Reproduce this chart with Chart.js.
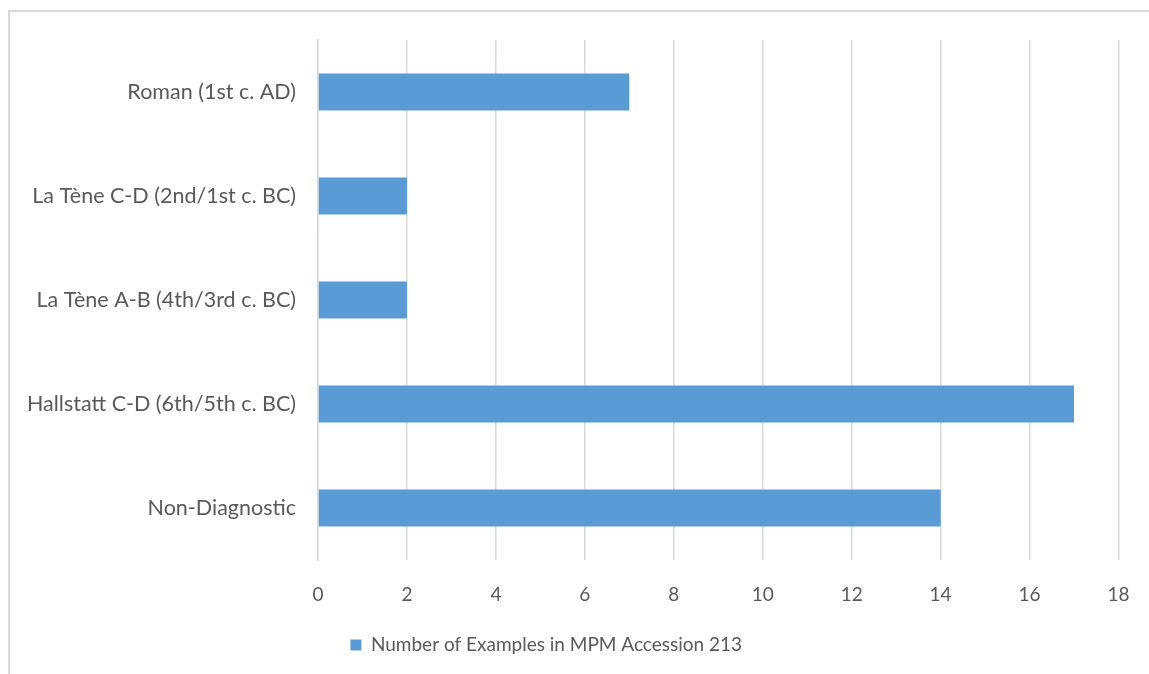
<!DOCTYPE html>
<html>
<head>
<meta charset="utf-8">
<script src="https://cdn.jsdelivr.net/npm/chart.js@4"></script>
<style>
  html, body { margin: 0; padding: 0; background: #fff; overflow: hidden; }
  #frame { position: absolute; left: 8px; top: 10px; width: 1200px; height: 720px; border: 2px solid #d9d9d9; }
  #box { position: absolute; left: 0; top: 0; width: 1149px; height: 674px; }
</style>
</head>
<body>
<div id="frame"></div>
<div id="box"><canvas id="myChart"></canvas></div>
<script>
const periods = ["Roman (1st c. AD)", "La Tène C-D (2nd/1st c. BC)", "La Tène A-B (4th/3rd c. BC)", "Hallstatt C-D (6th/5th c. BC)", "Non-Diagnostic"];
const examples = [7, 2, 2, 17, 14];
const seriesName = "Number of Examples in MPM Accession 213";

const textColor = "#595959";
const gridColor = "#d9d9d9";
const barColor = "#5b9bd5";
const fontFamily = "Lato, sans-serif";

Chart.defaults.font.family = fontFamily;
Chart.defaults.color = textColor;

// legend in the original sits a little left of the canvas centre
const shiftLegend = {
  id: "shiftLegend",
  afterLayout(chart) {
    chart.legend.left -= 13;
    chart.legend.right -= 13;
  }
};

const myChart = new Chart("myChart", {
  type: "bar",
  data: {
    labels: periods,
    datasets: [{
      label: seriesName,
      data: examples,
      backgroundColor: barColor,
      categoryPercentage: 0.354,
      barPercentage: 1
    }]
  },
  options: {
    indexAxis: "y",
    responsive: true,
    maintainAspectRatio: false,
    animation: false,
    layout: { padding: { top: 40, right: 30.5, bottom: 9.5, left: 0 } },
    scales: {
      x: {
        min: 0,
        max: 18,
        ticks: { stepSize: 2, padding: 23, font: { size: 19 }, color: textColor },
        grid: { color: gridColor, lineWidth: 1.5, drawTicks: false },
        border: { display: false },
        afterFit: (scale) => {
          scale.height = 65.5;
          scale.paddingLeft = 0;
          scale.paddingRight = 0;
        }
      },
      y: {
        ticks: { padding: 22, font: { size: 21.5 }, color: textColor },
        grid: { display: false, drawTicks: false },
        border: { display: true, color: gridColor, width: 1.5 },
        afterFit: (scale) => {
          scale.width = 318;
          scale.paddingTop = 0;
          scale.paddingBottom = 0;
        }
      }
    },
    plugins: {
      tooltip: { enabled: false },
      legend: {
        position: "bottom",
        labels: { boxWidth: 11, boxHeight: 11, padding: 10, font: { size: 19 }, color: textColor }
      }
    }
  },
  plugins: [shiftLegend]
});
</script>
</body>
</html>
